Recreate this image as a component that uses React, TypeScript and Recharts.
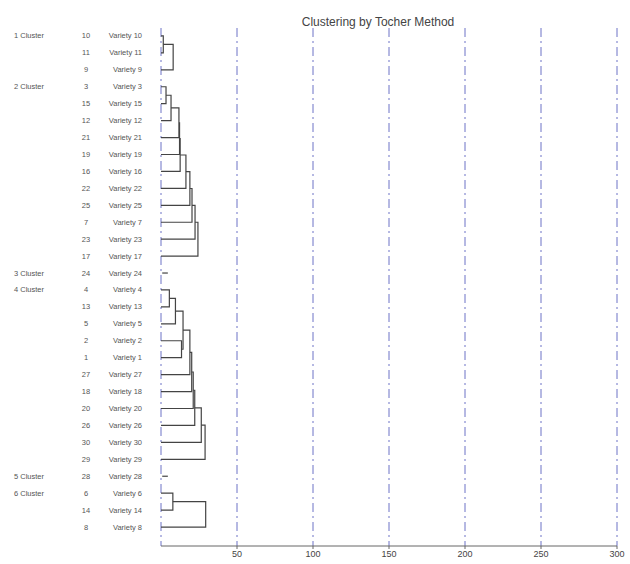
import { ScatterChart, Scatter, XAxis, YAxis, CartesianGrid } from 'recharts';

// ── Data ──────────────────────────────────────────────────────────────────────

// varieties from top to bottom, as they are listed on the left
const ORDER = [
  10, 11, 9, 3, 15, 12, 21, 19, 16, 22, 25, 7, 23, 17, 24, 4, 13, 5, 2, 1, 27, 18, 20, 26, 30, 29, 28, 6, 14, 8,
];

const CLUSTER_NAMES = ['1 Cluster', '2 Cluster', '3 Cluster', '4 Cluster', '5 Cluster', '6 Cluster'];
const CLUSTER_SIZES = [3, 11, 1, 11, 1, 3];

// merges: [node a, node b, distance]; merge k becomes node "m" + k
const MERGES: [string, string, number][] = [
  ['10', '11', 1.5],
  ['m0', '9', 8],
  ['3', '15', 3.3],
  ['m2', '12', 6.6],
  ['m3', '21', 11.8],
  ['m4', '19', 12.2],
  ['m5', '16', 12.6],
  ['m6', '22', 16.4],
  ['m7', '25', 19],
  ['m8', '7', 20.4],
  ['m9', '23', 22.4],
  ['m10', '17', 24.3],
  ['4', '13', 5.5],
  ['m12', '5', 9.5],
  ['2', '1', 13.5],
  ['m13', 'm14', 14.5],
  ['m15', '27', 19],
  ['m16', '18', 20.2],
  ['m17', '20', 21.2],
  ['m18', '26', 22.2],
  ['m19', '30', 26.5],
  ['m20', '29', 29],
  ['6', '14', 7.8],
  ['m22', '8', 29.4],
];

// single-member clusters: [variety, start, end]
const SINGLES: [number, number, number][] = [
  [24, 0.8, 4.5],
  [28, 0.8, 4.5],
];

const X_TICKS = [50, 100, 150, 200, 250, 300];

// ── Build line pieces ─────────────────────────────────────────────────────────

type Pt = { x: number; y: number };
const pos: Record<string, { h: number; y: number }> = {};
ORDER.forEach((v, i) => (pos[String(v)] = { h: 0, y: i }));

const pieces: Pt[][] = [];
MERGES.forEach(([a, b, h], k) => {
  const A = pos[a];
  const B = pos[b];
  pieces.push([
    { x: A.h, y: A.y },
    { x: h, y: A.y },
    { x: h, y: B.y },
    { x: B.h, y: B.y },
  ]);
  pos['m' + k] = { h, y: (A.y + B.y) / 2 };
});
SINGLES.forEach(([v, s, e]) => {
  const i = ORDER.indexOf(v);
  pieces.push([
    { x: s, y: i },
    { x: e, y: i },
  ]);
});

const clusterStart: Record<number, string> = {};
{
  let r = 0;
  CLUSTER_SIZES.forEach((n, c) => {
    clusterStart[r] = CLUSTER_NAMES[c];
    r += n;
  });
}

const FONT = '"Liberation Sans", Arial, sans-serif';
const TXT = '#555';

function RowTick({ y, payload }: { y?: number; payload?: { value: number } }) {
  const i = payload?.value ?? 0;
  return (
    <g fontFamily={FONT} fontSize={7.5} fill={TXT}>
      {clusterStart[i] && (
        <text x={14} y={y} dy={2.5} textAnchor="start">
          {clusterStart[i]}
        </text>
      )}
      <text x={86} y={y} dy={2.5} textAnchor="middle">
        {ORDER[i]}
      </text>
      <text x={142} y={y} dy={2.5} textAnchor="end">
        {`Variety ${ORDER[i]}`}
      </text>
    </g>
  );
}

export default function App() {
  return (
    <div style={{ position: 'absolute', left: 0, top: 0, width: 630, height: 564, background: '#fff', fontFamily: FONT }}>
      <div
        style={{
          position: 'absolute',
          left: 0,
          width: 756,
          top: 14,
          textAlign: 'center',
          fontSize: 12,
          color: '#444',
          lineHeight: '16px',
        }}
      >
        Clustering by Tocher Method
      </div>
      <ScatterChart width={630} height={564} margin={{ top: 28, right: 13, bottom: 0, left: 0 }}>
        <CartesianGrid horizontal={false} stroke="#6d72c6" strokeDasharray="9 4 2 4" />
        <XAxis
          type="number"
          dataKey="x"
          domain={[0, 300]}
          ticks={X_TICKS}
          interval={0}
          height={18}
          stroke="#666"
          tickSize={3}
          tick={{ fill: '#444', fontSize: 9, fontFamily: FONT }}
        />
        <YAxis
          type="number"
          dataKey="y"
          domain={[-0.47, 30.12]}
          reversed
          ticks={ORDER.map((_, i) => i)}
          interval={0}
          width={161}
          axisLine={false}
          tickLine={false}
          tick={<RowTick />}
        />
        {pieces.map((d, k) => (
          <Scatter
            key={k}
            data={d}
            line={{ stroke: '#444', strokeWidth: 1.2 }}
            shape={() => <g />}
            isAnimationActive={false}
          />
        ))}
      </ScatterChart>
    </div>
  );
}
